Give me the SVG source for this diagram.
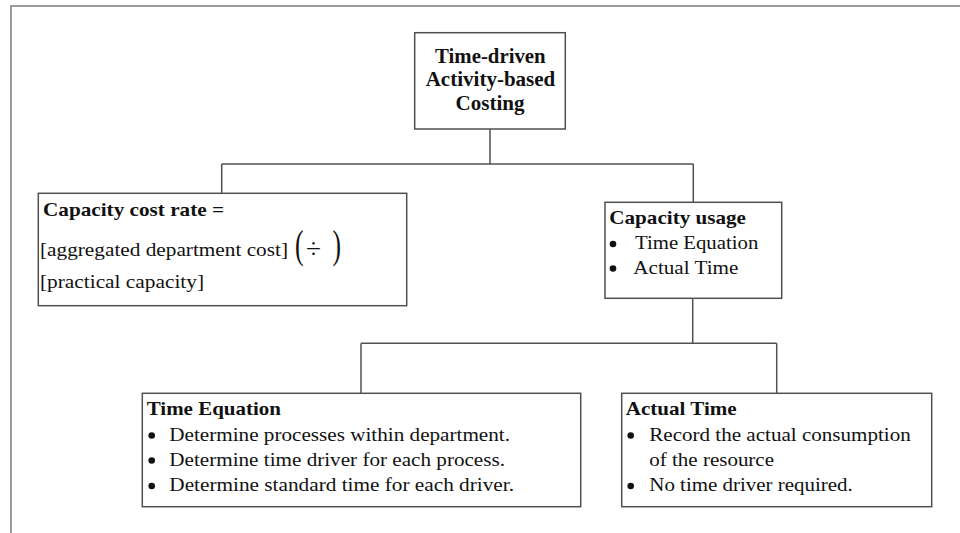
<svg xmlns="http://www.w3.org/2000/svg" width="960" height="533" viewBox="0 0 960 533" font-family="'Liberation Serif', 'Times New Roman', Times, serif">
  <style>
    .frame { fill: none; stroke: #7a7a7a; stroke-width: 1.5; }
    .box { fill: #ffffff; stroke: #505050; stroke-width: 1.5; }
    .link { fill: none; stroke: #505050; stroke-width: 1.5; }
    text { font-family: 'Liberation Serif', 'Times New Roman', Times, serif; fill: #111; }
    .t { font-weight: bold; font-size: 20px; }
    .b { font-weight: bold; font-size: 19px; }
    .r { font-size: 19px; }
    .dot { fill: #111; }
  </style>

  <rect width="960" height="533" fill="#ffffff"/>
  <!-- page frame -->
  <path class="frame" d="M11,533 V6 H960"/>

  <!-- tree connectors -->
  <g id="connectors">
    <path class="link" d="M490,129 V164"/>
    <path class="link" d="M221.7,164 H693.3"/>
    <path class="link" d="M221.7,164 V193.3"/>
    <path class="link" d="M693.3,164 V202.3"/>
    <path class="link" d="M692.7,298.3 V343.3"/>
    <path class="link" d="M361,343.3 H776.7"/>
    <path class="link" d="M361,343.3 V393.3"/>
    <path class="link" d="M776.7,343.3 V393.3"/>
  </g>

  <!-- root -->
  <g id="tdabc">
    <rect class="box" x="414.7" y="32.7" width="150.6" height="96.3"/>
    <text class="t" x="435" y="62.5" textLength="110.7" lengthAdjust="spacingAndGlyphs">Time-driven</text>
    <text class="t" x="425.7" y="86" textLength="129.6" lengthAdjust="spacingAndGlyphs">Activity-based</text>
    <text class="t" x="455.6" y="109.5" textLength="69" lengthAdjust="spacingAndGlyphs">Costing</text>
  </g>

  <!-- capacity cost rate -->
  <g id="capacity-cost-rate">
    <rect class="box" x="38.3" y="193.3" width="368.4" height="112.4"/>
    <text class="b" x="43" y="216" textLength="181" lengthAdjust="spacingAndGlyphs">Capacity cost rate =</text>
    <text class="r" x="40" y="256" textLength="248" lengthAdjust="spacingAndGlyphs">[aggregated department cost]</text>
    <text x="295" y="258" font-size="40" textLength="8.5" lengthAdjust="spacingAndGlyphs">(</text>
    <text x="306" y="258" font-size="27" textLength="15" lengthAdjust="spacingAndGlyphs">÷</text>
    <text x="332.5" y="258" font-size="40" textLength="8.5" lengthAdjust="spacingAndGlyphs">)</text>
    <text class="r" x="40" y="288" textLength="164" lengthAdjust="spacingAndGlyphs">[practical capacity]</text>
  </g>

  <!-- capacity usage -->
  <g id="capacity-usage">
    <rect class="box" x="605" y="202.3" width="176.7" height="96"/>
    <text class="b" x="609.3" y="224.3" textLength="136.7" lengthAdjust="spacingAndGlyphs">Capacity usage</text>
    <circle class="dot" cx="613" cy="244" r="3.3"/>
    <text class="r" x="635" y="249.3" textLength="123.3" lengthAdjust="spacingAndGlyphs">Time Equation</text>
    <circle class="dot" cx="613" cy="268.5" r="3.3"/>
    <text class="r" x="633.3" y="273.5" textLength="105" lengthAdjust="spacingAndGlyphs">Actual Time</text>
  </g>

  <!-- time equation -->
  <g id="time-equation">
    <rect class="box" x="142.3" y="393.3" width="438.4" height="113.4"/>
    <text class="b" x="146.7" y="415" textLength="134.3" lengthAdjust="spacingAndGlyphs">Time Equation</text>
    <circle class="dot" cx="151.7" cy="435.5" r="3.3"/>
    <text class="r" x="169.3" y="440.7" textLength="340.7" lengthAdjust="spacingAndGlyphs">Determine processes within department.</text>
    <circle class="dot" cx="151.7" cy="460.5" r="3.3"/>
    <text class="r" x="169.3" y="465.7" textLength="335.7" lengthAdjust="spacingAndGlyphs">Determine time driver for each process.</text>
    <circle class="dot" cx="151.7" cy="486" r="3.3"/>
    <text class="r" x="169.3" y="491" textLength="344.7" lengthAdjust="spacingAndGlyphs">Determine standard time for each driver.</text>
  </g>

  <!-- actual time -->
  <g id="actual-time">
    <rect class="box" x="621.7" y="393.3" width="310" height="113.4"/>
    <text class="b" x="625.7" y="415" textLength="111" lengthAdjust="spacingAndGlyphs">Actual Time</text>
    <circle class="dot" cx="630.7" cy="435.5" r="3.3"/>
    <text class="r" x="649.3" y="440.7" textLength="261.4" lengthAdjust="spacingAndGlyphs">Record the actual consumption</text>
    <text class="r" x="649.3" y="465.5" textLength="124.7" lengthAdjust="spacingAndGlyphs">of the resource</text>
    <circle class="dot" cx="630.7" cy="486" r="3.3"/>
    <text class="r" x="649.3" y="491" textLength="203.4" lengthAdjust="spacingAndGlyphs">No time driver required.</text>
  </g>
</svg>
